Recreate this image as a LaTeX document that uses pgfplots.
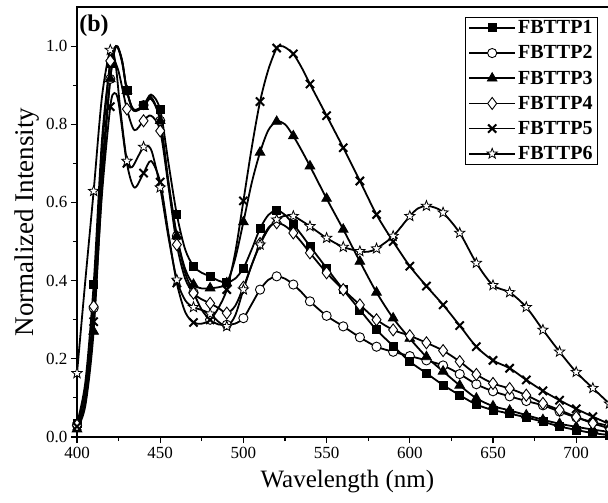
\documentclass[border=0pt]{standalone}
\usepackage{fontspec}
\setmainfont{Liberation Serif}
\usepackage{pgfplots}
\usepackage{pgfplotstable}
\pgfplotsset{compat=1.18}

\pgfdeclareplotmark{ostar}{%
  \pgfpathmoveto{\pgfpointpolar{90}{\pgfplotmarksize}}%
  \pgfpathlineto{\pgfpointpolar{126}{0.42\pgfplotmarksize}}%
  \pgfpathlineto{\pgfpointpolar{162}{\pgfplotmarksize}}%
  \pgfpathlineto{\pgfpointpolar{198}{0.42\pgfplotmarksize}}%
  \pgfpathlineto{\pgfpointpolar{234}{\pgfplotmarksize}}%
  \pgfpathlineto{\pgfpointpolar{270}{0.42\pgfplotmarksize}}%
  \pgfpathlineto{\pgfpointpolar{306}{\pgfplotmarksize}}%
  \pgfpathlineto{\pgfpointpolar{342}{0.42\pgfplotmarksize}}%
  \pgfpathlineto{\pgfpointpolar{18}{\pgfplotmarksize}}%
  \pgfpathlineto{\pgfpointpolar{54}{0.42\pgfplotmarksize}}%
  \pgfpathclose
  \pgfusepathqfillstroke
}

% FBTTP1
\pgfplotstableread{
x y m
400 0.035 1
405 0.14 0
410 0.39 1
415 0.76 0
420 0.955 1
423.5 1.0 0
427 0.965 0
430 0.886 1
434 0.838 0
440 0.849 1
444.5 0.876 0
450 0.837 1
455 0.70 0
460 0.569 1
465 0.48 0
470 0.437 1
475 0.42 0
480 0.411 1
485 0.40 0
490 0.395 1
495 0.405 0
500 0.432 1
505 0.48 0
510 0.533 1
515 0.568 0
520 0.58 1
525 0.568 0
530 0.544 1
535 0.517 0
540 0.488 1
550 0.432 1
560 0.377 1
570 0.325 1
580 0.274 1
590 0.233 1
600 0.193 1
610 0.163 1
620 0.133 1
630 0.107 1
640 0.083 1
650 0.069 1
660 0.060 1
670 0.050 1
680 0.039 1
690 0.027 1
700 0.018 1
710 0.010 1
720 0.005 1
}\dataA

% FBTTP2
\pgfplotstableread{
x y m
400 0.03 1
405 0.10 0
410 0.33 1
415 0.68 0
420 0.916 1
423.5 1.0 0
427 0.96 0
430 0.886 1
434 0.835 0
440 0.849 1
444.5 0.87 0
450 0.809 1
455 0.65 0
460 0.514 1
465 0.42 0
470 0.37 1
475 0.325 0
480 0.30 1
485 0.288 0
490 0.287 1
495 0.29 0
500 0.304 1
505 0.34 0
510 0.377 1
515 0.402 0
520 0.411 1
525 0.405 0
530 0.39 1
535 0.37 0
540 0.347 1
550 0.31 1
560 0.283 1
570 0.255 1
580 0.231 1
590 0.218 1
600 0.207 1
610 0.196 1
620 0.183 1
630 0.161 1
640 0.135 1
650 0.117 1
660 0.104 1
670 0.092 1
680 0.081 1
690 0.065 1
700 0.050 1
710 0.038 1
720 0.028 1
}\dataB

% FBTTP3
\pgfplotstableread{
x y m
400 0.02 1
405 0.08 0
410 0.27 1
415 0.64 0
420 0.916 1
423.5 1.0 0
427 0.965 0
430 0.886 1
434 0.835 0
440 0.845 1
444.5 0.865 0
450 0.809 1
455 0.65 0
460 0.514 1
465 0.43 0
470 0.39 1
475 0.38 0
480 0.381 1
485 0.383 0
490 0.394 1
495 0.455 0
500 0.55 1
505 0.65 0
510 0.728 1
515 0.785 0
520 0.807 1
525 0.80 0
530 0.77 1
535 0.733 0
540 0.693 1
550 0.61 1
560 0.531 1
570 0.449 1
580 0.37 1
590 0.304 1
600 0.252 1
610 0.205 1
620 0.168 1
630 0.132 1
640 0.099 1
650 0.079 1
660 0.068 1
670 0.056 1
680 0.044 1
690 0.034 1
700 0.026 1
710 0.019 1
720 0.013 1
}\dataC

% FBTTP4
\pgfplotstableread{
x y m
400 0.03 1
405 0.12 0
410 0.334 1
415 0.73 0
420 0.962 1
422 0.965 0
425 0.935 0
430 0.839 1
434.5 0.785 0
440 0.809 1
444.5 0.822 0
450 0.783 1
455 0.64 0
460 0.492 1
465 0.405 0
470 0.368 1
475 0.352 0
480 0.342 1
485 0.33 0
490 0.317 1
495 0.335 0
500 0.383 1
505 0.44 0
510 0.495 1
515 0.535 0
520 0.548 1
525 0.54 0
530 0.522 1
535 0.498 0
540 0.471 1
550 0.42 1
560 0.377 1
570 0.338 1
580 0.30 1
590 0.274 1
600 0.259 1
610 0.241 1
620 0.221 1
630 0.193 1
640 0.16 1
650 0.137 1
660 0.124 1
670 0.107 1
680 0.086 1
690 0.069 1
700 0.051 1
710 0.035 1
720 0.022 1
}\dataD

% FBTTP5
\pgfplotstableread{
x y m
400 0.027 1
405 0.09 0
410 0.295 1
415 0.62 0
420 0.845 1
422.5 0.88 0
425 0.855 0
430 0.70 1
434.5 0.638 0
440 0.675 1
444.5 0.706 0
450 0.652 1
455 0.52 0
460 0.394 1
465 0.32 0
470 0.293 1
475 0.29 0
480 0.30 1
485 0.33 0
490 0.377 1
495 0.47 0
500 0.604 1
505 0.74 0
510 0.858 1
515 0.94 0
520 0.995 1
522.5 1.0 0
525 0.997 0
530 0.98 1
535 0.945 0
540 0.903 1
550 0.822 1
560 0.74 1
570 0.655 1
580 0.569 1
590 0.50 1
600 0.437 1
610 0.386 1
620 0.338 1
630 0.285 1
640 0.231 1
650 0.196 1
660 0.176 1
670 0.146 1
680 0.118 1
690 0.094 1
700 0.072 1
710 0.052 1
720 0.033 1
}\dataE

% FBTTP6
\pgfplotstableread{
x y m
400 0.163 1
405 0.40 0
410 0.629 1
415 0.87 0
420 0.99 1
423 0.96 0
426 0.84 0
430 0.706 1
433 0.69 0
437 0.72 0
440 0.742 1
442 0.745 0
445 0.73 0
450 0.638 1
455 0.51 0
460 0.402 1
465 0.35 0
470 0.332 1
475 0.325 0
480 0.315 1
485 0.295 0
490 0.283 1
495 0.31 0
500 0.377 1
505 0.44 0
510 0.492 1
515 0.532 0
520 0.556 1
525 0.566 0
530 0.565 1
535 0.553 0
540 0.539 1
550 0.509 1
560 0.486 1
570 0.475 1
575 0.474 0
580 0.482 1
590 0.514 1
600 0.565 1
605 0.585 0
610 0.591 1
615 0.587 0
620 0.574 1
630 0.522 1
640 0.445 1
650 0.388 1
660 0.37 1
670 0.332 1
680 0.274 1
690 0.218 1
700 0.166 1
710 0.125 1
720 0.085 1
}\dataF

\begin{document}
\begin{tikzpicture}
\useasboundingbox (-77bp,-66bp) rectangle (531bp,437bp);
\begin{axis}[
  at={(0,0)}, anchor=south west, scale only axis,
  width=540.8bp, height=430bp,
  xmin=400, xmax=725, ymin=0, ymax=1.1,
  xtick={400,450,500,550,600,650,700},
  minor xtick={425,475,525,575,625,675,725},
  ytick={0,0.2,0.4,0.6,0.8,1.0},
  minor ytick={0.1,0.3,0.5,0.7,0.9},
  tick align=outside, tick pos=left,
  major tick length=6bp, minor tick length=4bp,
  every tick/.style={black, line width=1.1bp},
  axis line style={line width=1.6bp},
  /pgf/number format/assume math mode=true,
  ticklabel style={font=\fontsize{17bp}{20bp}\selectfont},
  xticklabel style={yshift=-1bp},
  yticklabel style={/pgf/number format/.cd, fixed, fixed zerofill, precision=1},
  xlabel={Wavelength (nm)}, ylabel={Normalized Intensity},
  xlabel style={font=\fontsize{25bp}{29bp}\selectfont, yshift=-4bp},
  ylabel style={font=\fontsize{27bp}{31bp}\selectfont, yshift=0bp},
  legend image code/.code={\draw[mark repeat=2,mark phase=2,#1] plot coordinates {(0bp,0bp) (23bp,0bp) (46bp,0bp)};},
  legend style={at={(rel axis cs:0.9634,0.9767)}, anchor=north east, draw=black, line width=1bp,
    font=\fontsize{20bp}{24bp}\selectfont\bfseries, inner xsep=3bp, inner ysep=1bp,
    row sep=6.5bp, cells={anchor=west}},
  unbounded coords=discard,
]
\addlegendimage{black, line width=1.8bp, mark=square*, mark size=4bp, mark options={solid, fill=black, line width=0.8bp}}
\addlegendentry{FBTTP1}
\addlegendimage{black, line width=1.8bp, mark=*, mark size=4.6bp, mark options={solid, fill=white, line width=0.9bp}}
\addlegendentry{FBTTP2}
\addlegendimage{black, line width=1.8bp, mark=triangle*, mark size=5.6bp, mark options={solid, fill=black, line width=0.8bp}}
\addlegendentry{FBTTP3}
\addlegendimage{black, line width=1.8bp, mark=diamond*, mark size=6bp, mark options={solid, fill=white, line width=0.9bp}}
\addlegendentry{FBTTP4}
\addlegendimage{black, line width=1.8bp, mark=x, mark size=5.8bp, mark options={solid, line width=2bp}}
\addlegendentry{FBTTP5}
\addlegendimage{black, line width=1.8bp, mark=ostar, mark size=5.4bp, mark options={solid, fill=white, line width=0.8bp}}
\addlegendentry{FBTTP6}

% FBTTP2
\addplot[black, line width=1.8bp, smooth, forget plot] table[x=x,y=y] {\dataB};
\addplot[only marks, forget plot, mark=*, mark size=4.6bp, mark options={fill=white, draw=black, line width=0.9bp},
  restrict expr to domain={\thisrow{m}}{0.5:1.5}] table[x=x,y=y] {\dataB};
% FBTTP3
\addplot[black, line width=1.8bp, smooth, forget plot] table[x=x,y=y] {\dataC};
\addplot[only marks, forget plot, mark=triangle*, mark size=5.6bp, mark options={fill=black, draw=black, line width=0.8bp},
  restrict expr to domain={\thisrow{m}}{0.5:1.5}] table[x=x,y=y] {\dataC};
% FBTTP1
\addplot[black, line width=1.8bp, smooth, forget plot] table[x=x,y=y] {\dataA};
\addplot[only marks, forget plot, mark=square*, mark size=4bp, mark options={fill=black, draw=black, line width=0.8bp},
  restrict expr to domain={\thisrow{m}}{0.5:1.5}] table[x=x,y=y] {\dataA};
% FBTTP4
\addplot[black, line width=1.8bp, smooth, forget plot] table[x=x,y=y] {\dataD};
\addplot[only marks, forget plot, mark=diamond*, mark size=6bp, mark options={fill=white, draw=black, line width=0.9bp},
  restrict expr to domain={\thisrow{m}}{0.5:1.5}] table[x=x,y=y] {\dataD};
% FBTTP5
\addplot[black, line width=1.8bp, smooth, forget plot] table[x=x,y=y] {\dataE};
\addplot[only marks, forget plot, mark=x, mark size=5.8bp, mark options={draw=black, line width=2bp},
  restrict expr to domain={\thisrow{m}}{0.5:1.5}] table[x=x,y=y] {\dataE};
% FBTTP6
\addplot[black, line width=1.8bp, smooth, forget plot] table[x=x,y=y] {\dataF};
\addplot[only marks, forget plot, mark=ostar, mark size=5.4bp, mark options={fill=white, draw=black, line width=0.8bp},
  restrict expr to domain={\thisrow{m}}{0.5:1.5}] table[x=x,y=y] {\dataF};

\node[anchor=north west, inner sep=0pt, font=\bfseries\fontsize{24bp}{28bp}\selectfont] at (rel axis cs:0.004,0.982) {(b)};
\end{axis}
\end{tikzpicture}
\end{document}
